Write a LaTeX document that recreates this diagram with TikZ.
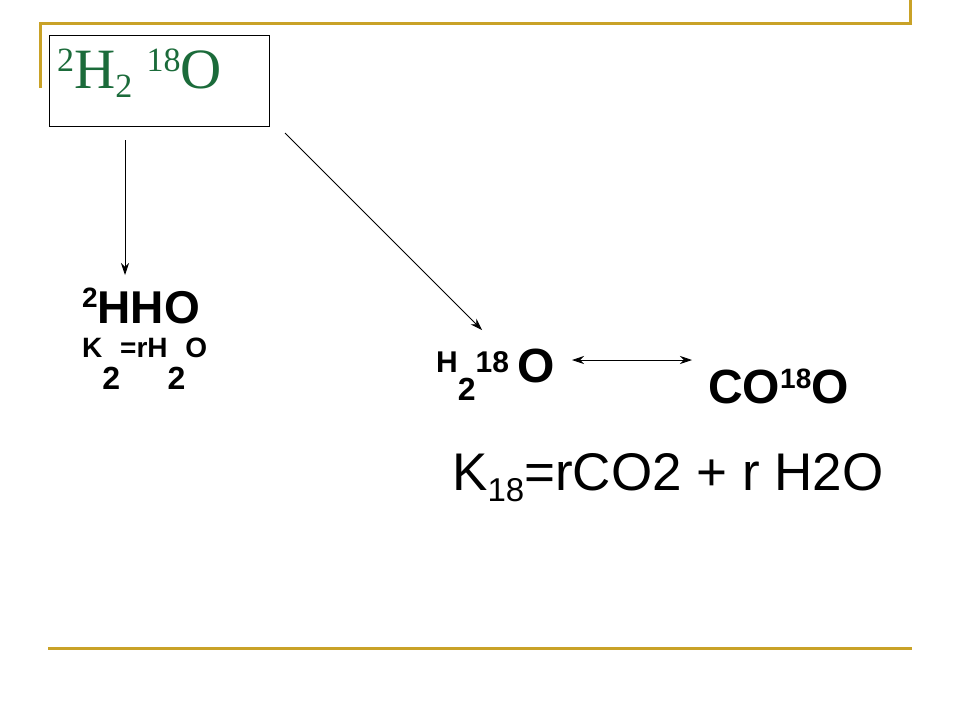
\documentclass[tikz,border=0pt]{standalone}
\usepackage{fontspec}
\setmainfont{Liberation Serif}
\newfontfamily\arial{Liberation Sans}
\usetikzlibrary{arrows.meta}
\definecolor{gold}{HTML}{C9A227}
\definecolor{dgreen}{HTML}{1B6B3A}
\begin{document}
\begin{tikzpicture}[x=1pt,y=-1pt,
  gline/.style={draw=gold,line width=3pt},
  arr/.style={-{Stealth[length=12pt,width=8pt]},line width=0.8pt},
  txt/.style={anchor=base west,inner sep=0pt,font=\arial\bfseries}]
\useasboundingbox (0,0) rectangle (960,720);
\draw[gline] (40,88) -- (40,23) -- (912,23);
\draw[gline] (910,0) -- (910,23);
\draw[gline] (48,648) -- (912,648);
\node[draw,line width=0.8pt,minimum width=220pt,minimum height=91pt,anchor=north west,inner sep=0pt] (box) at (49,35) {};
\node[anchor=base west,inner sep=0pt,text=dgreen,font=\fontsize{57}{60}\selectfont] (t) at (57,88) {\raisebox{17pt}{\fontsize{34}{36}\selectfont 2}H\raisebox{-9pt}{\fontsize{34}{36}\selectfont 2} \raisebox{17pt}{\fontsize{34}{36}\selectfont 18}O};
\coordinate (a1) at (125,140); \coordinate (a2) at (125,275);
\coordinate (b1) at (285,133); \coordinate (b2) at (482,330);
\node[txt,font=\arial\bfseries\fontsize{46}{48}\selectfont] (hho) at (82,323) {\raisebox{16pt}{\fontsize{28}{30}\selectfont 2}HHO};
\node[txt,font=\arial\bfseries\fontsize{28}{30}\selectfont] (k2) at (82,357) {K\raisebox{-32pt}{\fontsize{32}{34}\selectfont 2}=rH\raisebox{-32pt}{\fontsize{32}{34}\selectfont 2}O};
\node[txt,font=\arial\bfseries\fontsize{30}{32}\selectfont] (h2o) at (436,372) {H\raisebox{-28pt}{\fontsize{32}{34}\selectfont 2}18 \fontsize{48}{50}\selectfont\raisebox{-10pt}{O}};
\node[txt,font=\arial\bfseries\fontsize{48}{50}\selectfont] (co) at (708,403) {CO\raisebox{15pt}{\fontsize{28}{30}\selectfont 18}O};
\node[anchor=base west,inner sep=0pt,font=\arial\fontsize{53}{55}\selectfont] (k18) at (452,490) {K\raisebox{-11pt}{\fontsize{33}{35}\selectfont 18}=rCO2 + r H2O};
\draw[arr] (a1) -- (a2);
\draw[arr] (b1) -- (b2);
\coordinate (c1) at (572,360); \coordinate (c2) at (692,360);
\draw[{Stealth[length=12pt,width=8pt]}-{Stealth[length=12pt,width=8pt]},line width=0.8pt] (c1) -- (c2);
\end{tikzpicture}
\end{document}
